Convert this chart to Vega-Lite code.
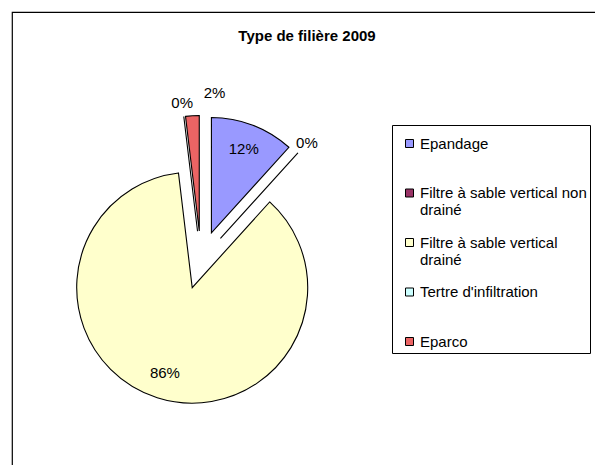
{
  "$schema": "https://vega.github.io/schema/vega-lite/v6.json",
  "width": 590,
  "height": 480,
  "autosize": {"type": "none"},
  "padding": {"left": 12, "top": 12, "right": 0, "bottom": 0},
  "background": "white",
  "title": {"text": "Type de filière 2009", "font": "Liberation Sans", "fontSize": 15, "fontWeight": "bold", "color": "black", "anchor": "middle", "baseline": "top", "offset": 0, "dy": 32},
  "data": {"values": [
    {"cat": "Epandage", "value": 11.7},
    {"cat": "Filtre à sable vertical non drainé", "value": 0},
    {"cat": "Filtre à sable vertical drainé", "value": 86.4},
    {"cat": "Tertre d'infiltration", "value": 0},
    {"cat": "Eparco", "value": 1.9}
  ]},
  "transform": [
    {"window": [{"op": "sum", "field": "value", "as": "cum"}], "frame": [null, 0]},
    {"joinaggregate": [{"op": "sum", "field": "value", "as": "total"}]},
    {"calculate": "2*PI*(datum.cum - datum.value)/datum.total", "as": "a0"},
    {"calculate": "2*PI*datum.cum/datum.total", "as": "a1"},
    {"calculate": "(datum.a0 + datum.a1)/2", "as": "am"},
    {"calculate": "sin(datum.am)", "as": "ex"},
    {"calculate": "-cos(datum.am)", "as": "ey"},
    {"calculate": "format(datum.value/datum.total, '.0%')", "as": "lbl"}
  ],
  "encoding": {
    "x": {"field": "ex", "type": "quantitative", "scale": {"domain": [-1, 1], "range": [160, 218]}, "axis": null},
    "y": {"field": "ey", "type": "quantitative", "scale": {"domain": [-1, 1], "range": [219, 277]}, "axis": null}
  },
  "layer": [
    {
      "mark": {"type": "arc", "outerRadius": 115.5, "stroke": "black", "strokeWidth": 1.1},
      "encoding": {
        "theta": {"field": "a0", "type": "quantitative", "stack": null, "scale": {"domain": [0, 6.283185307179586], "range": [0, 6.283185307179586]}},
        "theta2": {"field": "a1"},
        "color": {
          "field": "cat", "type": "nominal",
          "scale": {
            "domain": ["Epandage", "Filtre à sable vertical non drainé", "Filtre à sable vertical drainé", "Tertre d'infiltration", "Eparco"],
            "range": ["#9999FF", "#993366", "#FFFFCC", "#CCFFFF", "#EB6464"]
          },
          "legend": {
            "orient": "none", "legendX": 380, "legendY": 113,
            "title": " ", "titleFontSize": 4, "titlePadding": 4,
            "strokeColor": "black", "padding": 3, "symbolOffset": 7,
            "symbolType": "square", "symbolSize": 64, "symbolStrokeColor": "black", "symbolStrokeWidth": 1, "symbolOpacity": 1,
            "labelFont": "Liberation Sans", "labelFontSize": 15, "labelColor": "black", "labelLimit": 400, "labelOffset": 3,
            "labelBaseline": "middle", "rowPadding": 16.5,
            "labelExpr": "datum.label == 'Filtre à sable vertical non drainé' ? ['Filtre à sable vertical non', 'drainé'] : datum.label == 'Filtre à sable vertical drainé' ? ['Filtre à sable vertical', 'drainé'] : datum.label == 'Eparco' ? datum.label : [datum.label, '']"
          }
        }
      }
    },
    {
      "transform": [{"filter": "datum.value >= 5"}],
      "mark": {"type": "text", "radius": 90, "font": "Liberation Sans", "fontSize": 15, "color": "black"},
      "encoding": {
        "theta": {"field": "am", "type": "quantitative", "stack": null, "scale": {"domain": [0, 6.283185307179586], "range": [0, 6.283185307179586]}},
        "text": {"field": "lbl"}
      }
    },
    {
      "transform": [{"filter": "datum.value == 0"}],
      "mark": {"type": "text", "radius": 129, "font": "Liberation Sans", "fontSize": 15, "color": "black"},
      "encoding": {
        "theta": {"field": "am", "type": "quantitative", "stack": null, "scale": {"domain": [0, 6.283185307179586], "range": [0, 6.283185307179586]}},
        "text": {"field": "lbl"}
      }
    },
    {
      "transform": [
        {"filter": "datum.value < 5 && datum.value > 0"},
        {"calculate": "datum.am + 0.17", "as": "lt"}
      ],
      "mark": {"type": "text", "radius": 139, "font": "Liberation Sans", "fontSize": 15, "color": "black"},
      "encoding": {
        "theta": {"field": "lt", "type": "quantitative", "stack": null, "scale": {"domain": [0, 6.283185307179586], "range": [0, 6.283185307179586]}},
        "text": {"field": "lbl"}
      }
    }
  ],
  "config": {"view": {"stroke": "black", "strokeWidth": 1.2}}
}
